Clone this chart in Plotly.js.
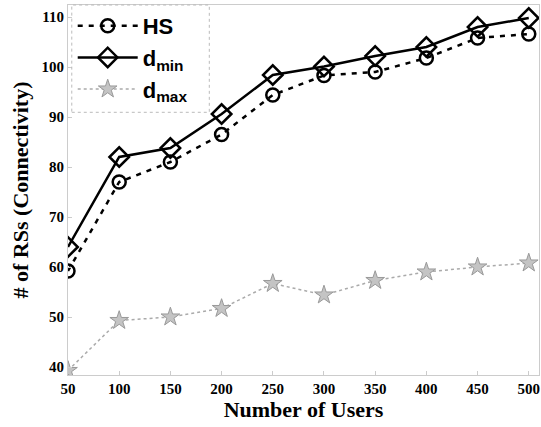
<!DOCTYPE html>
<html><head><meta charset="utf-8">
<script src="https://cdn.plot.ly/plotly-3.0.1.min.js"></script>
<style>html,body{margin:0;padding:0;background:#fff}#chart{width:541px;height:427px}</style>
</head><body><div id="chart"></div>
<script>
const users = [50, 100, 150, 200, 250, 300, 350, 400, 450, 500];
const hs = [59.2, 77, 81, 86.5, 94.4, 98.3, 99, 101.8, 105.8, 106.6];
const dmin = [64, 82, 83.8, 90.6, 98.4, 100.1, 102.2, 104, 108, 109.8];
const dmax = [39.3, 49.3, 50, 51.7, 56.7, 54.4, 57.3, 59, 60, 60.8];
const xTicks = [50, 100, 150, 200, 250, 300, 350, 400, 450, 500];
const yTicks = [40, 50, 60, 70, 80, 90, 100, 110];

const traces = [
  {x: users, y: hs, name: 'HS', mode: 'lines+markers',
   line: {color: '#000', width: 2.5, dash: '5px,6px'},
   marker: {symbol: 'circle-open', size: 13, color: '#000', line: {width: 2.5}}},
  {x: users, y: dmin, name: 'd<sub>min</sub>', mode: 'lines+markers',
   line: {color: '#000', width: 2.5},
   marker: {symbol: 'diamond-open', size: 15, color: '#000', line: {width: 2.5}}},
  {x: users, y: dmax, name: 'd<sub>max</sub>', mode: 'lines+markers',
   line: {color: '#aaa', width: 1.5, dash: 'dot'},
   marker: {symbol: 'star', size: 14, color: '#c4c4c4', line: {color: '#999', width: 1}}}
];

const layout = {
  width: 541, height: 427,
  margin: {l: 68, r: 2, t: 5, b: 52},
  paper_bgcolor: '#fff', plot_bgcolor: '#fff',
  showlegend: true,
  legend: {x: 0.01, y: 1, xanchor: 'left', yanchor: 'top',
    bgcolor: 'rgba(255,255,255,0)', borderwidth: 0,
    font: {family: 'Liberation Sans, Arial', size: 22, color: '#000', weight: 700},
    tracegroupgap: 2, itemwidth: 60},
  xaxis: {range: [50, 510], tickvals: xTicks, ticktext: xTicks.map(String),
    showgrid: false, zeroline: false, showline: true, mirror: true,
    linecolor: '#ccc', linewidth: 1, ticks: 'inside', ticklen: 4, tickcolor: '#ccc',
    tickfont: {family: 'Liberation Serif, Times New Roman', size: 15, color: '#000', weight: 700},
    title: {text: 'Number of Users', standoff: 2,
      font: {family: 'Liberation Serif, Times New Roman', size: 22, color: '#000', weight: 700}}},
  yaxis: {range: [38.4, 112.4], tickvals: yTicks, ticktext: yTicks.map(String),
    showgrid: false, zeroline: false, showline: true, mirror: true,
    linecolor: '#ccc', linewidth: 1, ticks: 'inside', ticklen: 4, tickcolor: '#ccc',
    tickfont: {family: 'Liberation Serif, Times New Roman', size: 15, color: '#000', weight: 700},
    title: {text: '# of RSs (Connectivity)', standoff: 6,
      font: {family: 'Liberation Serif, Times New Roman', size: 22, color: '#000', weight: 700}}},
  shapes: [{type: 'rect', xref: 'paper', yref: 'paper', x0: 0.008, x1: 0.30, y0: 0.71, y1: 1,
    line: {color: '#bbb', width: 1, dash: 'dot'}, fillcolor: 'rgba(0,0,0,0)'}]
};

Plotly.newPlot('chart', traces, layout, {displayModeBar: false, staticPlot: true});
</script></body></html>
